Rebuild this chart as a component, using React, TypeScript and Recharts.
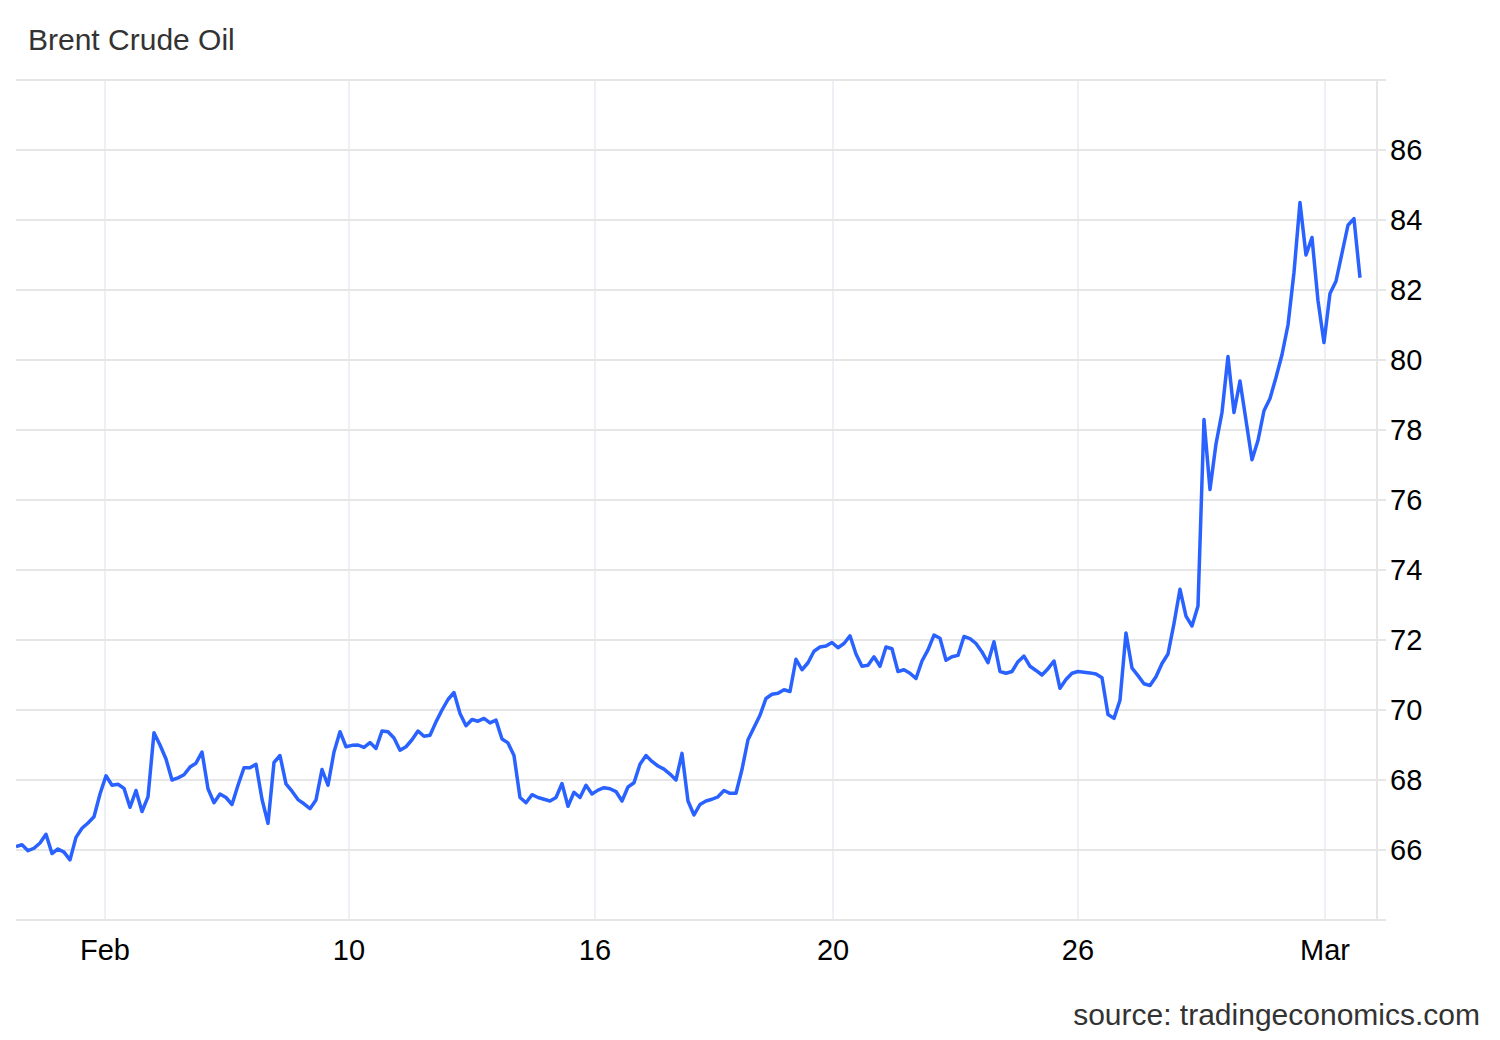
import React from 'react'
import { LineChart, Line, XAxis, YAxis, CartesianGrid } from 'recharts'

// Brent crude, intraday closes (one value per step on the time axis)
const prices = [
  66.1, 66.15, 65.98, 66.05, 66.2, 66.45, 65.9, 66.03, 65.94, 65.72,
  66.36, 66.62, 66.77, 66.95, 67.6, 68.12, 67.85, 67.88, 67.76, 67.22,
  67.7, 67.1, 67.52, 69.35, 69.0, 68.6, 68.0, 68.06, 68.15, 68.37,
  68.48, 68.8, 67.75, 67.35, 67.6, 67.5, 67.3, 67.85, 68.35, 68.35,
  68.45, 67.45, 66.76, 68.5, 68.7, 67.89, 67.68, 67.44, 67.32, 67.18,
  67.43, 68.3, 67.85, 68.8, 69.38, 68.95, 68.99, 69.0, 68.93, 69.07,
  68.9, 69.4, 69.38, 69.2, 68.85, 68.95, 69.15, 69.4, 69.25, 69.28,
  69.66, 70.0, 70.3, 70.5, 69.9, 69.55, 69.73, 69.68, 69.76, 69.63,
  69.71, 69.17, 69.06, 68.7, 67.5, 67.35, 67.58, 67.5, 67.45, 67.4,
  67.5, 67.9, 67.25, 67.65, 67.5, 67.85, 67.6, 67.71, 67.78, 67.75,
  67.67, 67.4, 67.8, 67.92, 68.45, 68.7, 68.53, 68.4, 68.31, 68.17,
  68.0, 68.76, 67.4, 67.0, 67.3, 67.4, 67.45, 67.52, 67.7, 67.62,
  67.62, 68.3, 69.15, 69.5, 69.85, 70.33, 70.45, 70.48, 70.58, 70.53,
  71.45, 71.15, 71.35, 71.68, 71.8, 71.83, 71.93, 71.78, 71.9, 72.12,
  71.6, 71.25, 71.28, 71.52, 71.25, 71.8, 71.75, 71.1, 71.15, 71.05,
  70.9, 71.4, 71.72, 72.14, 72.05, 71.42, 71.52, 71.56, 72.1, 72.04,
  71.9, 71.66, 71.35, 71.95, 71.1, 71.05, 71.1, 71.38, 71.54, 71.25,
  71.13, 71.0, 71.18, 71.4, 70.62, 70.87, 71.05, 71.1, 71.08, 71.06,
  71.03, 70.92, 69.87, 69.76, 70.28, 72.2, 71.2, 70.98, 70.75, 70.7,
  70.95, 71.33, 71.6, 72.47, 73.45, 72.68, 72.4, 72.97, 78.3, 76.3,
  77.6, 78.5, 80.1, 78.5, 79.4, 78.28, 77.15, 77.7, 78.55, 78.9,
  79.5, 80.15, 81.0, 82.5, 84.5, 83.0, 83.5, 81.7, 80.5, 81.9,
  82.25, 83.05, 83.85, 84.04, 82.35,
]

// where each date label falls on the step axis
const dateTicks = [14.83, 55.5, 96.5, 136.17, 177, 218.17]
const dateLabels = ['Feb', '10', '16', '20', '26', 'Mar']

const priceTicks = [64, 66, 68, 70, 72, 74, 76, 78, 80, 82, 84, 86, 88]

const data = prices.map((price, i) => ({ i, price }))

const font = '"Liberation Sans", Arial, sans-serif'

export default function App() {
  return (
    <div
      style={{
        position: 'absolute',
        left: 0,
        top: 0,
        width: 1500,
        height: 1040,
        background: '#fff',
        fontFamily: font,
      }}
    >
      <div
        style={{
          position: 'absolute',
          left: 28,
          top: 25,
          fontSize: 30,
          lineHeight: '30px',
          color: '#333',
        }}
      >
        Brent Crude Oil
      </div>

      <LineChart
        width={1500}
        height={1040}
        data={data}
        margin={{ top: 80, right: 17, bottom: 60, left: 16 }}
      >
        <CartesianGrid
          horizontal={false}
          verticalValues={dateTicks}
          stroke="#edf1f6"
          strokeWidth={2}
        />
        <CartesianGrid
          vertical={false}
          horizontalValues={priceTicks}
          stroke="#e6e6e6"
          strokeWidth={2}
        />
        <XAxis
          dataKey="i"
          type="number"
          domain={[0, 226.17]}
          ticks={dateTicks}
          interval={0}
          tickFormatter={(v: number) => dateLabels[dateTicks.indexOf(v)] ?? ''}
          axisLine={false}
          tickLine={false}
          tickSize={0}
          tickMargin={19}
          height={60}
          tick={{ fill: '#000', fontSize: 29, fontFamily: font }}
          allowDataOverflow
        />
        <YAxis
          orientation="right"
          domain={[64, 88]}
          ticks={priceTicks}
          interval={0}
          tickFormatter={(v: number) => (v === 64 || v === 88 ? '' : String(v))}
          axisLine={{ stroke: '#e6e6e6', strokeWidth: 2, transform: 'translate(4,0)' }}
          tickLine={{ stroke: '#e6e6e6', strokeWidth: 2 }}
          tickSize={13}
          tickMargin={4}
          width={110}
          tick={{ fill: '#000', fontSize: 29, fontFamily: font }}
          allowDataOverflow
        />
        <Line
          type="linear"
          dataKey="price"
          stroke="#2962ff"
          strokeWidth={3.5}
          strokeLinejoin="round"
          dot={false}
          activeDot={false}
          isAnimationActive={false}
        />
      </LineChart>

      <div
        style={{
          position: 'absolute',
          right: 20,
          top: 1000,
          fontSize: 30,
          lineHeight: '30px',
          color: '#333',
        }}
      >
        source: tradingeconomics.com
      </div>
    </div>
  )
}
